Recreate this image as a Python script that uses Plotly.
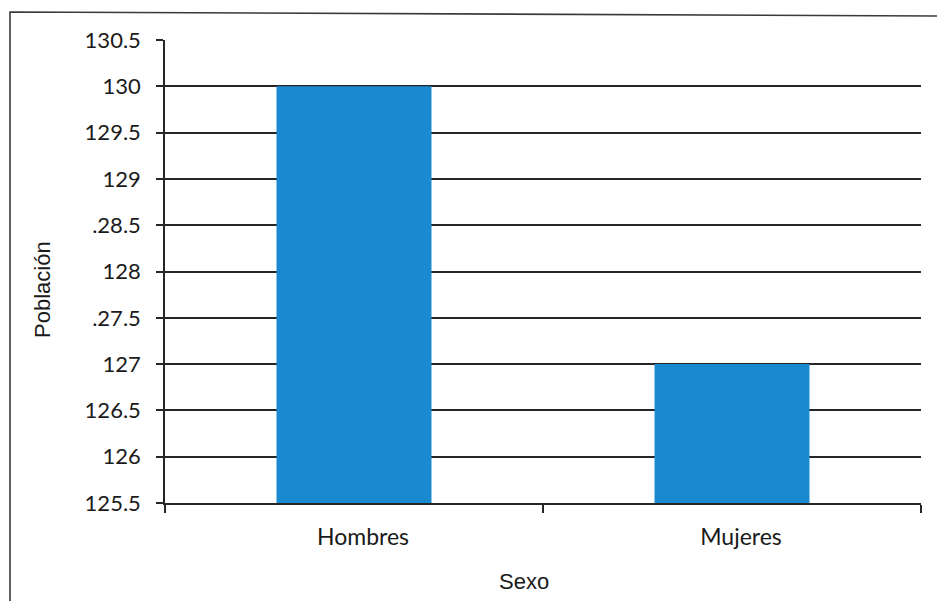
import plotly.graph_objects as go

# Population by sex
categories = ["Hombres", "Mujeres"]
poblacion = [130, 127]

# Y-axis ticks and their printed labels
y_tickvals = [125.5, 126, 126.5, 127, 127.5, 128, 128.5, 129, 129.5, 130, 130.5]
y_ticktext = ["125.5", "126", "126.5", "127", ".27.5", "128", ".28.5", "129", "129.5", "130", "130.5"]

bar_color = "#1A8AD0"
ink = "#262626"
tick_font = dict(family="Lato, Carlito, Calibri, sans-serif", size=22, color="#1a1a1a")
cat_font = dict(family="Lato, Carlito, Calibri, sans-serif", size=23, color="#1a1a1a")
title_font = dict(family="Liberation Sans Narrow, Arial Narrow, Liberation Sans, sans-serif", size=22, color="#1a1a1a")

fig = go.Figure(
    go.Bar(
        x=categories,
        y=poblacion,
        marker=dict(color=bar_color, line=dict(width=0)),
        width=0.41,
        showlegend=False,
    )
)

fig.update_layout(
    width=937,
    height=601,
    margin=dict(l=165, r=16, t=40, b=98),
    paper_bgcolor="white",
    plot_bgcolor="white",
    xaxis=dict(
        type="category",
        showline=True,
        linecolor=ink,
        linewidth=1.5,
        ticks="outside",
        tickson="boundaries",
        ticklen=8,
        tickwidth=1.5,
        tickcolor=ink,
        tickfont=cat_font,
        ticklabelstandoff=13,
        ticklabelshift=9,
        showgrid=False,
    ),
    yaxis=dict(
        range=[125.5, 130.5],
        tickvals=y_tickvals,
        ticktext=y_ticktext,
        showline=True,
        linecolor=ink,
        linewidth=1.5,
        ticks="outside",
        ticklen=7,
        tickwidth=1.5,
        tickcolor=ink,
        tickfont=tick_font,
        ticklabelstandoff=11,
        showgrid=True,
        gridcolor=ink,
        gridwidth=1.5,
        zeroline=False,
    ),
    annotations=[
        dict(
            text="Población",
            xref="paper", yref="paper",
            x=(42 - 165) / 756, y=(503 - 290) / 463,
            textangle=-90,
            showarrow=False,
            font=title_font,
            xanchor="center", yanchor="middle",
        ),
        dict(
            text="Sexo",
            xref="paper", yref="paper",
            x=(524 - 165) / 756, y=(503 - 581) / 463,
            showarrow=False,
            font=title_font,
            xanchor="center", yanchor="middle",
        ),
    ],
    shapes=[
        # Frame around the chart (left and top edges)
        dict(
            type="path",
            xref="paper", yref="paper",
            path="M {x0} {y0} L {x0} {y1} L {x1} {y2}".format(
                x0=(10 - 165) / 756,
                y0=(503 - 620) / 463,
                y1=(503 - 12) / 463,
                x1=(945 - 165) / 756,
                y2=(503 - 16) / 463,
            ),
            line=dict(color="#3a3a3a", width=1.6),
        )
    ],
)

fig.write_html("out.html")
